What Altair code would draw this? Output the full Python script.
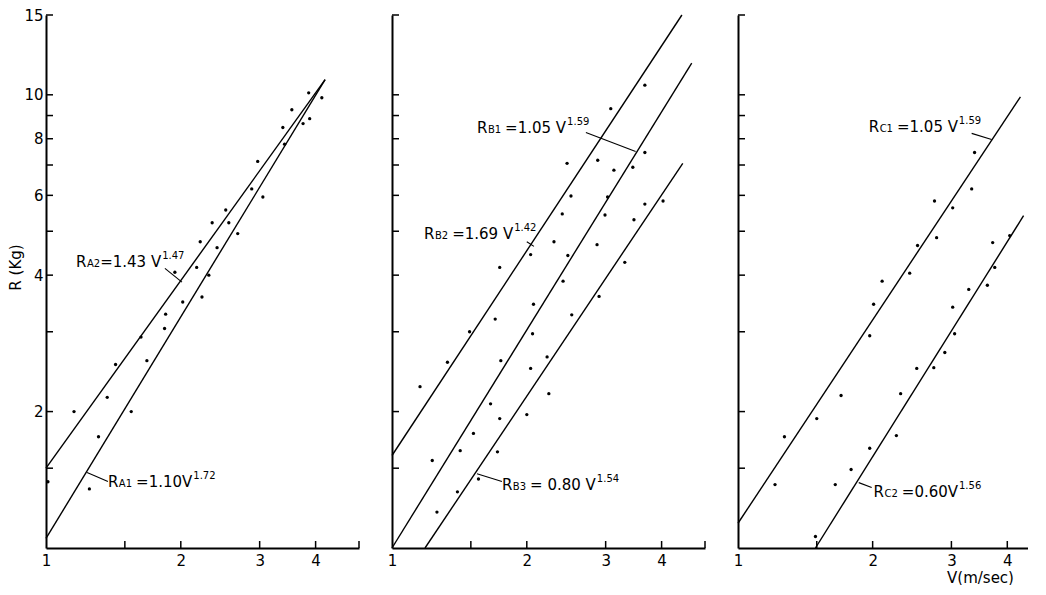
import altair as alt
import pandas as pd

# ---------------- data ----------------
# Panel A
A_V = [3.86, 3.54, 4.13, 3.38, 3.75, 3.88, 3.41, 2.97, 2.88, 3.05,
       2.52, 2.35, 2.56, 2.21, 2.68, 2.41, 2.17, 1.94, 2.31, 2.23,
       2.02, 1.85, 1.84, 1.63, 1.68, 1.43, 1.37, 1.155, 1.55, 1.31,
       1.01, 1.25]
A_R = [10.1, 9.27, 9.85, 8.47, 8.64, 8.86, 7.78, 7.13, 6.20, 5.95,
       5.57, 5.22, 5.22, 4.74, 4.94, 4.60, 4.16, 4.06, 4.00, 3.58,
       3.49, 3.28, 3.05, 2.92, 2.59, 2.54, 2.15, 2.00, 2.00, 1.76,
       1.40, 1.35]
# Panel B
B_V = [3.67, 3.08, 3.67, 2.46, 2.88, 3.13, 3.45, 2.51, 3.03, 3.67,
       4.03, 2.40, 2.99, 3.47, 2.30, 2.87, 2.04, 2.47, 3.31, 1.74,
       2.41, 2.90, 2.07, 2.52, 1.70, 1.49, 2.06, 2.22, 1.75, 1.33,
       2.04, 1.155, 2.24, 1.66, 1.74, 2.00, 1.52, 1.42, 1.72, 1.23,
       1.56, 1.40, 1.26]
B_R = [10.5, 9.32, 7.46, 7.06, 7.17, 6.82, 6.92, 5.98, 5.95, 5.74,
       5.83, 5.46, 5.43, 5.30, 4.74, 4.67, 4.44, 4.42, 4.27, 4.16,
       3.88, 3.59, 3.45, 3.27, 3.20, 3.00, 2.97, 2.64, 2.59, 2.57,
       2.49, 2.27, 2.19, 2.08, 1.93, 1.97, 1.79, 1.64, 1.63, 1.56,
       1.42, 1.33, 1.20]
# Panel C
C_V = [3.38, 3.33, 2.75, 3.02, 2.78, 2.52, 2.10, 2.42, 3.71, 4.05,
       3.75, 3.28, 3.61, 2.01, 3.02, 1.97, 3.05, 2.90, 2.51, 2.74,
       1.70, 2.31, 1.50, 1.27, 2.26, 1.97, 1.79, 1.21, 1.65, 1.49]
C_R = [7.46, 6.20, 5.83, 5.63, 4.84, 4.65, 3.88, 4.04, 4.72, 4.89,
       4.16, 3.72, 3.80, 3.45, 3.40, 2.94, 2.97, 2.70, 2.49, 2.50,
       2.17, 2.19, 1.93, 1.76, 1.77, 1.66, 1.49, 1.38, 1.38, 1.06]

# fitted lines (as drawn): panel, id, V start/end, R start/end
LINE_PANEL = ["A", "A", "B", "B", "B", "C", "C"]
LINE_ID = ["A2", "A1", "B2", "B1", "B3", "C1", "C2"]
LINE_V0 = [1.0, 1.0, 1.0, 1.0, 1.185, 1.0, 1.49]
LINE_V1 = [4.2, 4.2, 4.44, 4.67, 4.46, 4.28, 4.35]
LINE_R0 = [1.5, 1.05, 1.6, 1.0, 1.0, 1.134, 1.0]
LINE_R1 = [10.8, 10.8, 15.0, 11.75, 7.06, 9.9, 5.41]

# leader lines from labels to the fitted lines
LEAD_PANEL = ["A", "A", "B", "B", "B", "C", "C"]
LEAD_V0 = [1.843, 1.235, 2.71, 2.00, 1.548, 3.33, 1.862]
LEAD_R0 = [4.14, 1.467, 8.26, 4.74, 1.459, 8.22, 1.394]
LEAD_V1 = [2.012, 1.375, 3.50, 2.075, 1.76, 3.69, 1.99]
LEAD_R1 = [3.86, 1.402, 7.50, 4.63, 1.402, 7.97, 1.36]

# equation labels
LAB_PANEL = ["A", "A", "B", "B", "B", "C", "C"]
LAB_SUB = ["A2", "A1", "B1", "B2", "B3", "C1", "C2"]
LAB_EQ = ["=1.43 V", "=1.10V", "=1.05 V", "=1.69 V", "= 0.80 V", "=1.05 V", "=0.60V"]
LAB_GAP = [0, 4, 4, 4, 4, 4, 4]
LAB_EXP = ["1.47", "1.72", "1.59", "1.42", "1.54", "1.59", "1.56"]
LAB_V = [1.167, 1.375, 1.548, 1.179, 1.76, 1.96, 2.01]
LAB_R = [4.27, 1.40, 8.43, 4.94, 1.374, 8.47, 1.33]

Y_TICKS = [1.5, 2, 3, 4, 5, 6, 7, 8, 9, 10, 15]
Y_LABELS = [2, 4, 6, 8, 10, 15]
X_TICKS = [1.5, 2, 3, 4, 5]
X_LABELS = [1, 2, 3, 4]

# ---------------- layout / style ----------------
FONT = "DejaVu Sans"
H = 533
W12 = 313
W3 = 290
X3MAX = 4.45
PPD_X = W12 / 0.69897
PPD_Y = H / 1.17609
BIG, SMALL = 15, 10
CW = {c: 0.636 for c in "0123456789"}
CW.update({"R": 0.695, "A": 0.684, "B": 0.686, "C": 0.698, "=": 0.838,
           ".": 0.318, " ": 0.318, "V": 0.684})


def tw(s, fs):
    return sum(CW.get(c, 0.6) for c in s) * fs


def shift_v(v, px):
    return v * 10 ** (px / PPD_X)


pts = {"A": (A_V, A_R), "B": (B_V, B_R), "C": (C_V, C_R)}

lines_df = pd.DataFrame([
    {"panel": p, "id": i, "V": v, "R": r, "o": k}
    for p, i, v0, v1, r0, r1 in zip(LINE_PANEL, LINE_ID, LINE_V0, LINE_V1, LINE_R0, LINE_R1)
    for k, (v, r) in enumerate([(v0, r0), (v1, r1)])
])
lead_df = pd.DataFrame({"panel": LEAD_PANEL, "V": LEAD_V0, "R": LEAD_R0,
                        "V2": LEAD_V1, "R2": LEAD_R1})

big_rows, sub_rows, sup_rows = [], [], []
for p, sub, eq, gap, ex, v, r in zip(LAB_PANEL, LAB_SUB, LAB_EQ, LAB_GAP, LAB_EXP, LAB_V, LAB_R):
    rb = r * 10 ** (-5.0 / PPD_Y)
    x_sub = tw("R", BIG) + 0.5
    x_eq = x_sub + tw(sub, SMALL) + gap
    x_sup = x_eq + tw(eq, BIG) + 1
    big_rows.append({"panel": p, "t": "R", "V": v, "R": rb})
    sub_rows.append({"panel": p, "t": sub, "V": shift_v(v, x_sub), "R": rb})
    big_rows.append({"panel": p, "t": eq, "V": shift_v(v, x_eq), "R": rb})
    sup_rows.append({"panel": p, "t": ex, "V": shift_v(v, x_sup), "R": rb})
big_df = pd.DataFrame(big_rows)
sub_df = pd.DataFrame(sub_rows)
sup_df = pd.DataFrame(sup_rows)


def panel(key, xmax, width, first=False, xtitle=None):
    xs = alt.Scale(type="log", domain=[1, xmax], nice=False)
    ys = alt.Scale(type="log", domain=[1, 15], nice=False)
    if xtitle:
        xax = alt.Axis(values=X_LABELS, format="~g", ticks=False, grid=False,
                       labelPadding=5, labelFlush=False, domainWidth=2,
                       title=xtitle, titleX=242, titleY=29, titleAlign="center",
                       titleBaseline="middle", titleFontSize=15,
                       titleFontWeight="normal", titleFont=FONT)
    else:
        xax = alt.Axis(values=X_LABELS, format="~g", ticks=False, grid=False,
                       labelPadding=5, labelFlush=False, domainWidth=2,
                       title=None)
    if first:
        yax = alt.Axis(values=Y_LABELS, format="~g", ticks=False, grid=False,
                       labelPadding=3, domainWidth=2, title="R (Kg)",
                       titleFontSize=15, titleFontWeight="normal",
                       titlePadding=0, titleFont=FONT, titleY=252)
    else:
        yax = alt.Axis(values=Y_LABELS, labels=False, ticks=False, grid=False,
                       domainWidth=2, title=None, minExtent=0)
    X = alt.X("V:Q", scale=xs, axis=xax)
    Y = alt.Y("R:Q", scale=ys, axis=yax)

    v, r = pts[key]
    dots = alt.Chart(pd.DataFrame({"V": v, "R": r})).mark_circle(
        size=11, color="black", opacity=1).encode(x=X, y=Y)

    ln = alt.Chart(lines_df[lines_df.panel == key]).mark_line(
        color="black", strokeWidth=1.4).encode(x=X, y=Y, detail="id:N", order="o:Q")

    ld = alt.Chart(lead_df[lead_df.panel == key]).mark_rule(
        color="black", strokeWidth=1.1).encode(x=X, y=Y, x2="V2:Q", y2="R2:Q")

    tb = alt.Chart(big_df[big_df.panel == key]).mark_text(
        align="left", baseline="alphabetic", font=FONT, fontSize=BIG,
        color="black").encode(x=X, y=Y, text="t:N")
    ts = alt.Chart(sub_df[sub_df.panel == key]).mark_text(
        align="left", baseline="alphabetic", font=FONT, fontSize=SMALL,
        color="black").encode(x=X, y=Y, text="t:N")
    tp = alt.Chart(sup_df[sup_df.panel == key]).mark_text(
        align="left", baseline="alphabetic", font=FONT, fontSize=SMALL,
        dy=-8, color="black").encode(x=X, y=Y, text="t:N")

    yt = alt.Chart(pd.DataFrame({"R": Y_TICKS})).mark_rule(
        color="black", strokeWidth=1.5).encode(
        y=alt.Y("R:Q", scale=ys, axis=yax), x=alt.value(0), x2=alt.value(7))
    xt = alt.Chart(pd.DataFrame({"V": [t for t in X_TICKS if t <= xmax]})).mark_rule(
        color="black", strokeWidth=1.5).encode(
        x=alt.X("V:Q", scale=xs, axis=xax), y=alt.value(H), y2=alt.value(H - 7))

    return alt.layer(dots, ln, ld, tb, ts, tp, yt, xt).properties(width=width, height=H)


p1 = panel("A", 5.0, W12, first=True)
p2 = panel("B", 5.0, W12)
p3 = panel("C", X3MAX, W3, xtitle="V(m/sec)")

chart = alt.hconcat(p1, p2, p3, spacing=27).properties(
    padding=0,
    background="white",
).configure_view(stroke=None).configure_axis(
    labelFont=FONT, labelFontSize=15, labelColor="black",
    domainColor="black", titleColor="black",
)

chart.save("out.html", embed_options={"renderer": "svg", "actions": False})
